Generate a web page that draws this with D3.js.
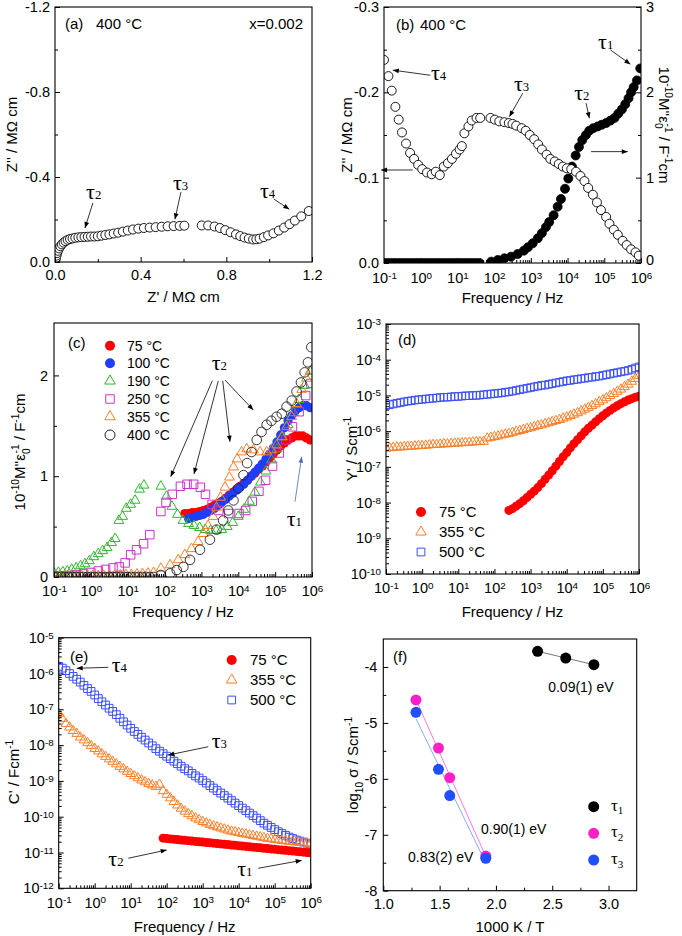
<!DOCTYPE html>
<html><head><meta charset="utf-8">
<script src="https://cdn.jsdelivr.net/npm/d3@7"></script>
<style>body{margin:0;background:#fff}svg{display:block}</style>
</head><body><script>
// ================= DATA =================
const freqTicks=[0.1,1,10,100,1e3,1e4,1e5,1e6];
const aXTicks=[0,0.4,0.8,1.2], aXMinor=[0.2,0.6,1.0];
const aYTicks=[0,-0.4,-0.8,-1.2], aYMinor=[-0.2,-0.6,-1.0];
const bLTicks=[0,-0.1,-0.2,-0.3], bLMinor=[-0.05,-0.15,-0.25];
const bRTicks=[0,1,2,3], bRMinor=[0.5,1.5,2.5];
const cYTicks=[0,1,2], cYMinor=[0.5,1.5];
const dYTicks=[1e-10,1e-9,1e-8,1e-7,1e-6,1e-5,1e-4,1e-3];
const eYTicks=[1e-12,1e-11,1e-10,1e-9,1e-8,1e-7,1e-6,1e-5];
const fXTicks=[1.0,1.5,2.0,2.5,3.0], fXMinor=[1.25,1.75,2.25,2.75];
const fYTicks=[-8,-7,-6,-5,-4], fYMinor=[-7.5,-6.5,-5.5,-4.5];

// (a) Nyquist, 400 C : [Z' (MOhm cm), Z'' (MOhm cm)]
const aNyquist=[[0.002,-0.006],[0.004,-0.018],[0.007,-0.03],[0.01,-0.042],[0.014,-0.053],[0.019,-0.064],[0.025,-0.074],[0.032,-0.083],[0.04,-0.091],[0.049,-0.098],[0.059,-0.104],[0.07,-0.108],[0.082,-0.111],[0.095,-0.114],[0.109,-0.116],[0.123,-0.117],[0.138,-0.118],[0.153,-0.119],[0.168,-0.12],[0.184,-0.12],[0.2,-0.121],[0.217,-0.124],[0.235,-0.127],[0.254,-0.13],[0.274,-0.134],[0.295,-0.138],[0.317,-0.143],[0.34,-0.148],[0.364,-0.153],[0.389,-0.157],[0.415,-0.16],[0.442,-0.162],[0.47,-0.164],[0.498,-0.166],[0.526,-0.168],[0.554,-0.169],[0.582,-0.17],[0.604,-0.171],
[0.685,-0.172],[0.715,-0.172],[0.745,-0.167],[0.77,-0.16],[0.795,-0.15],[0.82,-0.14],[0.845,-0.13],[0.865,-0.122],[0.885,-0.115],[0.905,-0.11],[0.925,-0.106],[0.94,-0.107],[0.955,-0.11],[0.975,-0.117],[0.995,-0.125],[1.02,-0.135],[1.045,-0.148],[1.07,-0.162],[1.095,-0.178],[1.12,-0.195],[1.15,-0.215],[1.185,-0.24]];

// (b) 400 C: [log10 f, Z''] and [log10 f, 1e-10 M''/eps0]
const bZ2=[[-1.0,-0.238],[-0.88,-0.219],[-0.79,-0.202],[-0.69,-0.183],[-0.6,-0.168],[-0.51,-0.153],[-0.4,-0.14],[-0.29,-0.129],[-0.18,-0.122],[-0.07,-0.115],[0.04,-0.11],[0.17,-0.106],[0.3,-0.104],[0.41,-0.107],[0.52,-0.103],[0.63,-0.113],[0.74,-0.117],[0.85,-0.122],[0.96,-0.128],[1.06,-0.133],[1.12,-0.137],[1.19,-0.152],[1.3,-0.16],[1.39,-0.167],[1.52,-0.17],[1.62,-0.17],
[1.9,-0.17],[2.02,-0.168],[2.14,-0.166],[2.28,-0.165],[2.4,-0.164],[2.5,-0.163],[2.6,-0.161],[2.75,-0.158],[2.86,-0.155],[2.97,-0.15],[3.09,-0.145],[3.2,-0.139],[3.3,-0.133],[3.43,-0.127],[3.53,-0.122],[3.65,-0.119],[3.76,-0.116],[3.87,-0.113],[3.98,-0.111],[4.1,-0.11],[4.23,-0.107],[4.35,-0.102],[4.46,-0.096],[4.56,-0.088],[4.69,-0.08],[4.8,-0.071],[4.91,-0.062],[5.05,-0.054],[5.14,-0.046],[5.26,-0.039],[5.37,-0.033],[5.5,-0.026],[5.61,-0.021],[5.73,-0.016],[5.85,-0.0125],[5.94,-0.0086]];
const bM2=[[-1.0,0],[-0.9,0],[-0.8,0],[-0.7,0],[-0.6,0],[-0.5,0],[-0.4,0],[-0.3,0],[-0.2,0],[-0.1,0],[0.0,0],[0.1,0],[0.2,0],[0.3,0],[0.4,0],[0.5,0],[0.6,0],[0.7,0],[0.8,0],[0.9,0],[1.0,0],[1.1,0],[1.2,0],[1.3,0],[1.4,0],[1.5,0],[1.6,0],
[1.92,0.016],[2.1,0.035],[2.28,0.055],[2.46,0.074],[2.64,0.105],[2.81,0.145],[2.92,0.184],[3.05,0.23],[3.19,0.29],[3.3,0.35],[3.41,0.42],[3.5,0.48],[3.62,0.56],[3.73,0.66],[3.82,0.75],[3.93,0.87],[4.02,0.99],[4.12,1.13],[4.22,1.26],[4.31,1.36],[4.4,1.44],[4.5,1.5],[4.59,1.55],[4.7,1.58],[4.82,1.6],[4.93,1.62],[5.05,1.64],[5.17,1.67],[5.28,1.7],[5.38,1.75],[5.48,1.8],[5.57,1.86],[5.66,1.93],[5.73,2.0],[5.8,2.06],[5.89,2.14],[5.98,2.28]];

// (c) 1e-10 M''/eps0 vs [log10 f, value]
const c75=[[2.55,0.63],[2.65,0.63],[2.75,0.64],[2.85,0.64],[2.95,0.65],[3.05,0.66],[3.15,0.67],[3.25,0.69],[3.35,0.71],[3.45,0.73],[3.55,0.75],[3.65,0.78],[3.75,0.81],[3.85,0.84],[3.95,0.87],[4.05,0.9],[4.15,0.93],[4.25,0.96],[4.35,1.0],[4.45,1.03],[4.55,1.07],[4.65,1.1],[4.75,1.14],[4.85,1.18],[4.95,1.22],[5.05,1.26],[5.15,1.3],[5.25,1.33],[5.35,1.36],[5.45,1.38],[5.55,1.4],[5.65,1.4],[5.75,1.4],[5.85,1.38],[5.95,1.36]];
const c100=[[2.65,0.58],[2.75,0.59],[2.85,0.6],[2.95,0.61],[3.05,0.62],[3.15,0.64],[3.25,0.66],[3.35,0.68],[3.45,0.71],[3.55,0.74],[3.65,0.77],[3.75,0.8],[3.85,0.83],[3.95,0.86],[4.05,0.89],[4.15,0.92],[4.25,0.96],[4.35,1.0],[4.45,1.04],[4.55,1.08],[4.65,1.12],[4.75,1.17],[4.85,1.22],[4.95,1.28],[5.05,1.34],[5.15,1.41],[5.25,1.48],[5.35,1.55],[5.45,1.6],[5.55,1.65],[5.65,1.68],[5.75,1.7],[5.85,1.7],[5.95,1.68]];
const c190=[[-1,0.04],[-0.88,0.045],[-0.76,0.05],[-0.64,0.06],[-0.52,0.075],[-0.4,0.09],[-0.28,0.11],[-0.16,0.13],[-0.04,0.16],[0.08,0.2],[0.2,0.23],[0.32,0.26],[0.44,0.29],[0.56,0.34],[0.66,0.38],[0.76,0.56],[0.86,0.6],[0.96,0.68],[1.08,0.72],[1.2,0.76],[1.32,0.87],[1.44,0.91],[1.9,0.9],
[2.05,0.8],[2.2,0.7],[2.35,0.62],[2.5,0.56],[2.65,0.53],[2.8,0.51],[2.95,0.49],[3.1,0.47],[3.25,0.46],[3.4,0.46],[3.55,0.47],[3.7,0.5],[3.85,0.54],[4.0,0.6],[4.15,0.67],[4.3,0.75],[4.45,0.84],[4.6,0.94],[4.75,1.05],[4.9,1.16],[5.05,1.27],[5.2,1.39],[5.35,1.51],[5.5,1.63],[5.65,1.76],[5.8,1.9],[5.95,2.04]];
const c250=[[-1,0.01],[-0.8,0.012],[-0.6,0.015],[-0.4,0.02],[-0.2,0.03],[0,0.045],[0.2,0.06],[0.4,0.075],[0.6,0.09],[0.77,0.1],[0.93,0.14],[1.08,0.22],[1.24,0.27],[1.43,0.33],[1.6,0.42],
[1.9,0.65],[2.04,0.74],[2.21,0.82],[2.43,0.9],[2.61,0.92],[2.79,0.92],[2.97,0.89],[3.11,0.82],[3.29,0.72],[3.47,0.66],[3.74,0.63],[4.02,0.63],[4.2,0.66],[4.38,0.75],[4.56,0.85],[4.74,0.96],[4.93,1.1],[5.11,1.23],[5.29,1.36],[5.47,1.49],[5.65,1.64],[5.83,1.8],[5.97,1.92]];
const c355=[[-1,0.01],[-0.85,0.01],[-0.7,0.01],[-0.55,0.01],[-0.4,0.01],[-0.25,0.01],[-0.1,0.012],[0.05,0.012],[0.2,0.013],[0.35,0.014],[0.5,0.015],[0.65,0.017],[0.8,0.019],[0.95,0.021],[1.1,0.024],[1.25,0.028],[1.4,0.032],[1.55,0.037],[1.7,0.043],
[1.9,0.085],[2.15,0.12],[2.37,0.17],[2.55,0.22],[2.73,0.28],[2.91,0.35],[3.05,0.43],[3.18,0.51],[3.32,0.6],[3.41,0.69],[3.52,0.79],[3.64,0.89],[3.76,0.99],[3.87,1.09],[3.97,1.17],[4.09,1.24],[4.23,1.27],[4.41,1.26],[4.59,1.24],[4.77,1.24],[4.9,1.26],[5.04,1.31],[5.18,1.39],[5.31,1.49],[5.45,1.59],[5.58,1.72],[5.72,1.86],[5.85,1.97],[5.99,2.05]];
const c400=[[-1,0],[-0.9,0],[-0.8,0],[-0.7,0],[-0.6,0],[-0.5,0],[-0.4,0],[-0.3,0],[-0.2,0],[-0.1,0],[0,0],[0.1,0],[0.2,0],[0.3,0],[0.4,0],[0.5,0],[0.6,0],[0.7,0],[0.8,0],[0.9,0],[1.0,0],[1.1,0],[1.2,0],[1.3,0],[1.4,0],[1.5,0],[1.6,0],[1.7,0],
[1.9,0.02],[2.15,0.036],[2.33,0.069],[2.51,0.1],[2.69,0.17],[2.96,0.27],[3.23,0.37],[3.41,0.47],[3.59,0.56],[3.73,0.66],[3.87,0.76],[4.0,0.88],[4.14,1.01],[4.24,1.13],[4.36,1.24],[4.5,1.36],[4.63,1.44],[4.77,1.51],[4.9,1.55],[5.04,1.59],[5.18,1.62],[5.31,1.69],[5.45,1.75],[5.58,1.84],[5.7,1.93],[5.8,2.03],[5.89,2.13],[5.98,2.28]];

// (d) Y' : [log10 f, log10 Y']
const d75=[[2.4,-8.22],[2.5,-8.17],[2.6,-8.1],[2.7,-8.03],[2.8,-7.95],[2.9,-7.86],[3.0,-7.77],[3.1,-7.68],[3.2,-7.58],[3.3,-7.47],[3.4,-7.35],[3.5,-7.23],[3.6,-7.11],[3.7,-6.98],[3.8,-6.85],[3.9,-6.72],[4.0,-6.6],[4.1,-6.47],[4.2,-6.35],[4.3,-6.24],[4.4,-6.13],[4.5,-6.02],[4.6,-5.92],[4.7,-5.83],[4.8,-5.74],[4.9,-5.65],[5.0,-5.57],[5.1,-5.49],[5.2,-5.42],[5.3,-5.35],[5.4,-5.29],[5.5,-5.23],[5.6,-5.18],[5.7,-5.13],[5.8,-5.09],[5.9,-5.05],[6.0,-5.02]];
const d355=[[-1,-6.48],[-0.9,-6.47],[-0.8,-6.46],[-0.7,-6.45],[-0.6,-6.45],[-0.5,-6.44],[-0.4,-6.43],[-0.3,-6.43],[-0.2,-6.42],[-0.1,-6.41],[0,-6.41],[0.1,-6.4],[0.2,-6.39],[0.3,-6.38],[0.4,-6.38],[0.5,-6.37],[0.6,-6.36],[0.7,-6.36],[0.8,-6.35],[0.9,-6.34],[1.0,-6.34],[1.1,-6.33],[1.2,-6.32],[1.3,-6.32],[1.4,-6.31],[1.5,-6.3],[1.6,-6.3],[1.7,-6.29],
[1.8,-6.2],[1.9,-6.18],[2.0,-6.16],[2.1,-6.14],[2.2,-6.11],[2.3,-6.09],[2.4,-6.07],[2.5,-6.04],[2.6,-6.01],[2.7,-5.99],[2.8,-5.96],[2.9,-5.93],[3.0,-5.91],[3.1,-5.88],[3.2,-5.85],[3.3,-5.83],[3.4,-5.8],[3.5,-5.77],[3.6,-5.74],[3.7,-5.71],[3.8,-5.68],[3.9,-5.64],[4.0,-5.61],[4.1,-5.57],[4.2,-5.53],[4.3,-5.49],[4.4,-5.44],[4.5,-5.39],[4.6,-5.34],[4.7,-5.29],[4.8,-5.24],[4.9,-5.18],[5.0,-5.13],[5.1,-5.07],[5.2,-5.01],[5.3,-4.95],[5.4,-4.89],[5.5,-4.83],[5.6,-4.76],[5.7,-4.69],[5.8,-4.61],[5.9,-4.53],[6.0,-4.45]];
const d500=[[-1,-5.28],[-0.9,-5.26],[-0.8,-5.24],[-0.7,-5.22],[-0.6,-5.2],[-0.5,-5.18],[-0.4,-5.16],[-0.3,-5.15],[-0.2,-5.13],[-0.1,-5.12],[0,-5.11],[0.1,-5.1],[0.2,-5.09],[0.3,-5.08],[0.4,-5.07],[0.5,-5.06],[0.6,-5.05],[0.7,-5.05],[0.8,-5.04],[0.9,-5.03],[1.0,-5.03],[1.1,-5.02],[1.2,-5.01],[1.3,-5.01],[1.4,-5.0],[1.5,-5.0],[1.6,-4.99],[1.7,-4.98],[1.8,-4.97],[1.9,-4.96],[2.0,-4.95],[2.1,-4.94],[2.2,-4.93],[2.3,-4.91],[2.4,-4.9],[2.5,-4.88],[2.6,-4.86],[2.7,-4.84],[2.8,-4.82],[2.9,-4.8],[3.0,-4.78],[3.1,-4.76],[3.2,-4.74],[3.3,-4.72],[3.4,-4.71],[3.5,-4.69],[3.6,-4.67],[3.7,-4.65],[3.8,-4.63],[3.9,-4.61],[4.0,-4.59],[4.1,-4.58],[4.2,-4.56],[4.3,-4.55],[4.4,-4.53],[4.5,-4.52],[4.6,-4.5],[4.7,-4.49],[4.8,-4.47],[4.9,-4.46],[5.0,-4.44],[5.1,-4.42],[5.2,-4.4],[5.3,-4.38],[5.4,-4.36],[5.5,-4.34],[5.6,-4.32],[5.7,-4.3],[5.8,-4.27],[5.9,-4.23],[6.0,-4.2]];

// (e) C' : [log10 f, log10 C']
const e75=[[1.9,-10.6],[2.0,-10.61],[2.1,-10.62],[2.2,-10.63],[2.3,-10.64],[2.4,-10.65],[2.5,-10.66],[2.6,-10.67],[2.7,-10.68],[2.8,-10.69],[2.9,-10.7],[3.0,-10.71],[3.1,-10.72],[3.2,-10.73],[3.3,-10.74],[3.4,-10.75],[3.5,-10.76],[3.6,-10.77],[3.7,-10.78],[3.8,-10.79],[3.9,-10.8],[4.0,-10.81],[4.1,-10.82],[4.2,-10.83],[4.3,-10.84],[4.4,-10.85],[4.5,-10.86],[4.6,-10.87],[4.7,-10.88],[4.8,-10.89],[4.9,-10.9],[5.0,-10.91],[5.1,-10.92],[5.2,-10.93],[5.3,-10.94],[5.4,-10.95],[5.5,-10.96],[5.6,-10.97],[5.7,-10.98],[5.8,-10.99],[5.9,-11.0],[6.0,-11.01]];
const e355=[[-1,-7.12],[-0.9,-7.26],[-0.8,-7.4],[-0.7,-7.5],[-0.6,-7.6],[-0.5,-7.68],[-0.4,-7.78],[-0.3,-7.86],[-0.2,-7.94],[-0.1,-8.02],[0,-8.1],[0.1,-8.17],[0.2,-8.25],[0.3,-8.32],[0.4,-8.39],[0.5,-8.46],[0.6,-8.53],[0.7,-8.6],[0.8,-8.67],[0.9,-8.74],[1.0,-8.8],[1.1,-8.86],[1.2,-8.92],[1.3,-8.98],[1.4,-9.03],[1.5,-9.08],[1.6,-9.12],[1.7,-9.16],[1.8,-9.1],[1.9,-9.28],[2.0,-9.38],[2.1,-9.48],[2.2,-9.58],[2.3,-9.68],[2.4,-9.77],[2.5,-9.85],[2.6,-9.92],[2.7,-9.98],[2.8,-10.04],[2.9,-10.09],[3.0,-10.14],[3.1,-10.18],[3.2,-10.22],[3.3,-10.26],[3.4,-10.29],[3.5,-10.32],[3.6,-10.35],[3.7,-10.38],[3.8,-10.41],[3.9,-10.43],[4.0,-10.45],[4.1,-10.47],[4.2,-10.49],[4.3,-10.51],[4.4,-10.53],[4.5,-10.55],[4.6,-10.57],[4.7,-10.59],[4.8,-10.61],[4.9,-10.62],[5.0,-10.64],[5.1,-10.65],[5.2,-10.67],[5.3,-10.68],[5.4,-10.69],[5.5,-10.7],[5.6,-10.71],[5.7,-10.72],[5.8,-10.73],[5.9,-10.74],[6.0,-10.75]];
const e500=[[-1,-5.8],[-0.9,-5.85],[-0.8,-5.92],[-0.7,-6.0],[-0.6,-6.08],[-0.5,-6.16],[-0.4,-6.24],[-0.3,-6.33],[-0.2,-6.42],[-0.1,-6.5],[0,-6.6],[0.1,-6.7],[0.2,-6.79],[0.3,-6.88],[0.4,-6.97],[0.5,-7.06],[0.6,-7.15],[0.7,-7.25],[0.8,-7.35],[0.9,-7.44],[1.0,-7.53],[1.1,-7.62],[1.2,-7.7],[1.3,-7.78],[1.4,-7.86],[1.5,-7.94],[1.6,-8.02],[1.7,-8.1],[1.8,-8.17],[1.9,-8.24],[2.0,-8.31],[2.1,-8.38],[2.2,-8.45],[2.3,-8.52],[2.4,-8.59],[2.5,-8.66],[2.6,-8.72],[2.7,-8.79],[2.8,-8.86],[2.9,-8.92],[3.0,-8.99],[3.1,-9.06],[3.2,-9.13],[3.3,-9.2],[3.4,-9.27],[3.5,-9.34],[3.6,-9.41],[3.7,-9.48],[3.8,-9.55],[3.9,-9.62],[4.0,-9.69],[4.1,-9.76],[4.2,-9.83],[4.3,-9.9],[4.4,-9.97],[4.5,-10.04],[4.6,-10.11],[4.7,-10.18],[4.8,-10.24],[4.9,-10.3],[5.0,-10.36],[5.1,-10.42],[5.2,-10.47],[5.3,-10.52],[5.4,-10.57],[5.5,-10.61],[5.6,-10.65],[5.7,-10.68],[5.8,-10.71],[5.9,-10.74],[6.0,-10.77]];

// (f) Arrhenius: [1000K/T, log10 sigma]
const fTau1=[[2.37,-3.72],[2.62,-3.84],[2.87,-3.96]];
const fTau2=[[1.29,-4.59],[1.49,-5.45],[1.59,-5.98],[1.91,-7.38]];
const fTau3=[[1.29,-4.81],[1.49,-5.83],[1.59,-6.3],[1.91,-7.42]];
const fLabels=["0.09(1) eV","0.90(1) eV","0.83(2) eV"];
const cLegend=["75 °C","100 °C","190 °C","250 °C","355 °C","400 °C"];
const deLegend=["75 °C","355 °C","500 °C"];

// ================= DRAWING =================
const FONT='"Liberation Sans", Arial, Helvetica, sans-serif';
const SERIF='"Liberation Serif", "Times New Roman", serif';
const TFS=14.5, LFS=15;
const RED="#ff0000", BLUE="#1f3dff", GREEN="#2eb82e", MAG="#cc33cc", ORANGE="#ff7f27", SQBLUE="#3b4fff";
const svg=d3.select("body").append("svg").attr("width",682).attr("height",936);
const defs=svg.append("defs");
["#000","#4a6fb0"].forEach((c,i)=>{
  defs.append("marker").attr("id","ah"+i).attr("viewBox","0 0 10 10").attr("refX",10).attr("refY",5)
   .attr("markerWidth",7).attr("markerHeight",6).attr("markerUnits","userSpaceOnUse").attr("orient","auto")
   .append("path").attr("d","M0,1L10,5L0,9Z").attr("fill",c);
});
let clipN=0;
function panel(P){
  const id="cl"+(clipN++);
  defs.append("clipPath").attr("id",id).append("rect").attr("x",P.l).attr("y",P.t).attr("width",P.r-P.l).attr("height",P.b-P.t);
  return svg.append("g").attr("clip-path",`url(#${id})`);
}
function frame(P){
  svg.append("rect").attr("x",P.l).attr("y",P.t).attr("width",P.r-P.l).attr("height",P.b-P.t)
    .attr("fill","none").attr("stroke","#000").attr("stroke-width",1.1);
}
function logMinor(majors){
  const out=[];
  for(let i=0;i<majors.length-1;i++) for(let m=2;m<=9;m++) out.push(majors[i]*m);
  return out;
}
function addAxis(side,P,scale,major,minor,opts){
  opts=opts||{};
  const mk=side==="bottom"?d3.axisBottom:side==="left"?d3.axisLeft:d3.axisRight;
  const tr=side==="bottom"?`translate(0,${P.b})`:side==="left"?`translate(${P.l},0)`:`translate(${P.r},0)`;
  if(minor&&minor.length){
    const gm=svg.append("g").attr("transform",tr).call(mk(scale).tickValues(minor).tickSize(-3).tickFormat(""));
    gm.select(".domain").remove(); gm.selectAll("text").remove();
    gm.selectAll("line").attr("stroke","#000");
  }
  const g=svg.append("g").attr("transform",tr)
    .call(mk(scale).tickValues(major).tickSize(-5).tickPadding(opts.pad||6).tickFormat(opts.fmt||(d=>String(d))));
  g.select(".domain").remove();
  g.selectAll("line").attr("stroke","#000");
  g.selectAll("text").attr("font-size",TFS).attr("font-family",FONT).attr("fill","#000");
  if(opts.pow){
    g.selectAll(".tick text").each(function(d){
      const t=d3.select(this); const e=Math.round(Math.log10(d));
      t.text(null);
      t.append("tspan").text("10");
      t.append("tspan").attr("dy","-0.42em").attr("font-size",TFS*0.68).text(String(e));
    });
  }
  return g;
}
function txt(x,y,s,o){
  o=o||{};
  return svg.append("text").attr("x",x).attr("y",y).attr("font-family",o.ff||FONT).attr("font-size",o.fs||LFS)
    .attr("text-anchor",o.anchor||"start").attr("fill","#000").text(s);
}
function rich(x,y,parts,o){
  o=o||{};
  const fs=o.fs||LFS;
  const t=svg.append("text").attr("font-family",FONT).attr("font-size",fs).attr("text-anchor",o.anchor||"middle").attr("fill","#000");
  if(o.rot!==undefined) t.attr("transform",`translate(${x},${y}) rotate(${o.rot})`);
  else t.attr("x",x).attr("y",y);
  let level=0;
  parts.forEach(p=>{
    const [s,k,dx]=p;
    const target=k==="sup"?-0.42*fs:k==="sub"?0.3*fs:0;
    const ts=t.append("tspan").attr("dy",target-level).text(s);
    if(dx) ts.attr("dx",dx);
    if(k!=="n") ts.attr("font-size",fs*0.68);
    level=target;
  });
  return t;
}
function tau(x,y,num,o){
  o=o||{};
  const fs=o.fs||22;
  const t=svg.append("text").attr("x",x).attr("y",y).attr("font-family",SERIF).attr("font-size",fs).attr("fill","#000");
  t.append("tspan").text("τ");
  const s=t.append("tspan").attr("font-size",fs*(o.sub?0.65:0.58)).text(num);
  if(o.sub) s.attr("dy",fs*0.22);
  return t;
}
function arrow(x1,y1,x2,y2,c){
  svg.append("line").attr("x1",x1).attr("y1",y1).attr("x2",x2).attr("y2",y2)
    .attr("stroke",c||"#000").attr("stroke-width",0.8).attr("marker-end",`url(#${c?"ah1":"ah0"})`);
}
function circles(g,data,fx,fy,r,fill,stroke,sw){
  g.append("g").selectAll("circle").data(data).join("circle")
    .attr("cx",fx).attr("cy",fy).attr("r",r).attr("fill",fill).attr("stroke",stroke||"none").attr("stroke-width",sw||1);
}
function syms(g,data,fx,fy,type,size,stroke,sw){
  const sym=d3.symbol().type(type).size(size);
  g.append("g").selectAll("path").data(data).join("path")
    .attr("transform",d=>`translate(${fx(d)},${fy(d)})`).attr("d",sym)
    .attr("fill","none").attr("stroke",stroke).attr("stroke-width",sw||1);
}
const p10=v=>Math.pow(10,v);

// ---------- (a) ----------
{
  const P={l:55,r:312,t:7,b:262};
  const x=d3.scaleLinear().domain([0,1.2]).range([P.l,P.r]);
  const y=d3.scaleLinear().domain([0,-1.2]).range([P.b,P.t]);
  const g=panel(P);
  circles(g,aNyquist,d=>x(d[0]),d=>y(d[1]),4.5,"#fff","#000",0.9);
  frame(P);
  addAxis("bottom",P,x,aXTicks,aXMinor,{fmt:d=>d.toFixed(1),pad:8});
  addAxis("left",P,y,aYTicks,aYMinor,{fmt:d=>d.toFixed(1),pad:5});
  txt((P.l+P.r)/2,302,"Z' / MΩ cm",{anchor:"middle"});
  rich(17,(P.t+P.b)/2,[["Z'' / MΩ cm","n"]],{rot:-90});
  txt(65,29,"(a)"); txt(96,29,"400 °C"); txt(303,29,"x=0.002",{anchor:"end"});
  tau(x(0.145),y(-0.296),"2"); arrow(x(0.177),y(-0.278),x(0.14),y(-0.16));
  tau(x(0.551),y(-0.339),"3"); arrow(x(0.588),y(-0.329),x(0.56),y(-0.201));
  tau(x(0.957),y(-0.301),"4"); arrow(x(1.022),y(-0.296),x(1.094),y(-0.248));
}
// ---------- (b) ----------
{
  const P={l:384,r:641,t:7,b:263};
  const x=d3.scaleLog().domain([0.1,1e6]).range([P.l,P.r]);
  const yl=d3.scaleLinear().domain([0,-0.3]).range([P.b,P.t]);
  const yr=d3.scaleLinear().domain([0,3]).range([P.b,P.t]);
  const g=panel(P);
  circles(g,bM2,d=>x(p10(d[0])),d=>yr(d[1]),4.5,"#000","#000",0.8);
  circles(g,bZ2,d=>x(p10(d[0])),d=>yl(d[1]),4.5,"#fff","#000",0.9);
  frame(P);
  addAxis("bottom",P,x,freqTicks,logMinor(freqTicks),{pow:true,pad:10});
  addAxis("left",P,yl,bLTicks,bLMinor,{fmt:d=>d.toFixed(1),pad:5});
  const gr=addAxis("right",P,yr,bRTicks,bRMinor,{fmt:d=>String(d),pad:5});
  gr.selectAll(".tick text").filter(d=>d===0).attr("dy","0.1em");
  txt((P.l+P.r)/2,303,"Frequency / Hz",{anchor:"middle"});
  rich(352,(P.t+P.b)/2,[["Z'' / MΩ cm","n"]],{rot:-90});
  rich(659,125,[["10","n"],["-10","sup"],["M''ε","n"],["0","sub"],["-1","sup",-5],[" / F","n"],["-1","sup"],["cm","n"]],{rot:90});
  txt(396,30,"(b)"); txt(420,30,"400 °C");
  const X=v=>x(p10(v));
  tau(X(0.28),yl(-0.2145),"4"); arrow(X(0.26),yl(-0.220),X(-0.76),yl(-0.226));
  tau(X(2.54),yl(-0.2016),"3"); arrow(X(2.78),yl(-0.199),X(2.414),yl(-0.1715));
  tau(X(4.18),yl(-0.191),"2"); arrow(X(4.504),yl(-0.1872),X(4.594),yl(-0.1696));
  tau(X(4.83),yl(-0.251),"1"); arrow(X(5.166),yl(-0.2497),X(5.711),yl(-0.233));
  arrow(X(-0.218),yl(-0.109),X(-1.08),yl(-0.109));
  arrow(X(4.64),yl(-0.1305),X(5.64),yl(-0.1305));
}
// ---------- (c) ----------
{
  const P={l:54,r:312,t:323,b:577};
  const x=d3.scaleLog().domain([0.1,1e6]).range([P.l,P.r]);
  const y=d3.scaleLinear().domain([0,2.52]).range([P.b,P.t]);
  const g=panel(P);
  const fx=d=>x(p10(d[0])), fy=d=>y(d[1]);
  circles(g,c75,fx,fy,4.6,RED);
  circles(g,c100,fx,fy,4.6,BLUE);
  syms(g,c190,fx,fy,d3.symbolTriangle,42,GREEN,1);
  syms(g,c250,fx,fy,d3.symbolSquare,72,MAG,1);
  syms(g,c355,fx,fy,d3.symbolTriangle,42,ORANGE,1);
  circles(g,c400,fx,fy,4.8,"none","#222",0.9);
  frame(P);
  addAxis("bottom",P,x,freqTicks,logMinor(freqTicks),{pow:true,pad:9});
  addAxis("left",P,y,cYTicks,cYMinor,{fmt:d=>String(d),pad:6});
  txt((P.l+P.r)/2,617,"Frequency / Hz",{anchor:"middle"});
  rich(25,452,[["10","n"],["-10","sup"],["M''ε","n"],["0","sub"],["-1","sup",-5],[" / F","n"],["-1","sup"],["cm","n"]],{rot:-90});
  txt(68,348,"(c)");
  const ly=[345.7,363.3,381,399,416.7,435], lx=110;
  const lg=svg.append("g");
  lg.append("circle").attr("cx",lx).attr("cy",ly[0]).attr("r",5).attr("fill",RED);
  lg.append("circle").attr("cx",lx).attr("cy",ly[1]).attr("r",5).attr("fill",BLUE);
  const tri=d3.symbol().type(d3.symbolTriangle).size(48), sq=d3.symbol().type(d3.symbolSquare).size(72);
  lg.append("path").attr("d",tri).attr("transform",`translate(${lx},${ly[2]})`).attr("fill","none").attr("stroke",GREEN);
  lg.append("path").attr("d",sq).attr("transform",`translate(${lx},${ly[3]})`).attr("fill","none").attr("stroke",MAG);
  lg.append("path").attr("d",tri).attr("transform",`translate(${lx},${ly[4]})`).attr("fill","none").attr("stroke",ORANGE);
  lg.append("circle").attr("cx",lx).attr("cy",ly[5]).attr("r",5).attr("fill","none").attr("stroke","#222");
  cLegend.forEach((s,i)=>txt(127,ly[i]+5,s,{fs:14}));
  const X=v=>x(p10(v));
  tau(X(3.28),y(2.05),"2");
  arrow(X(3.295),y(1.947),X(2.166),y(0.995));
  arrow(X(3.458),y(1.947),X(2.798),y(1.022));
  arrow(X(3.577),y(1.947),X(3.775),y(1.342));
  arrow(X(3.64),y(1.954),X(4.407),y(1.657));
  tau(X(5.313),y(0.506),"1");
  arrow(X(5.538),y(0.747),X(5.72),y(1.193),"#4a6fb0");
}
// ---------- (d) ----------
{
  const P={l:386,r:639,t:324,b:574};
  const x=d3.scaleLog().domain([0.1,1e6]).range([P.l,P.r]);
  const y=d3.scaleLog().domain([1e-10,1e-3]).range([P.b,P.t]);
  const g=panel(P);
  const fx=d=>x(p10(d[0])), fy=d=>y(p10(d[1]));
  syms(g,d500,fx,fy,d3.symbolSquare,56,SQBLUE,1);
  syms(g,d355,fx,fy,d3.symbolTriangle,40,ORANGE,1);
  circles(g,d75,fx,fy,4.5,RED);
  frame(P);
  addAxis("bottom",P,x,freqTicks,logMinor(freqTicks),{pow:true,pad:9});
  addAxis("left",P,y,dYTicks,logMinor(dYTicks),{pow:true,pad:5});
  txt((P.l+P.r)/2,617,"Frequency / Hz",{anchor:"middle"});
  rich(357,449,[["Y' / Scm","n"],["-1","sup"]],{rot:-90});
  txt(398,345,"(d)");
  const ly=[512,532,552], lx=421;
  svg.append("circle").attr("cx",lx).attr("cy",ly[0]).attr("r",5).attr("fill",RED);
  svg.append("path").attr("d",d3.symbol().type(d3.symbolTriangle).size(48)).attr("transform",`translate(${lx},${ly[1]})`).attr("fill","none").attr("stroke",ORANGE);
  svg.append("path").attr("d",d3.symbol().type(d3.symbolSquare).size(60)).attr("transform",`translate(${lx},${ly[2]})`).attr("fill","none").attr("stroke",SQBLUE);
  deLegend.forEach((s,i)=>txt(439,ly[i]+5,s));
}
// ---------- (e) ----------
{
  const P={l:58.7,r:310.7,t:637.7,b:888.3};
  const x=d3.scaleLog().domain([0.1,1e6]).range([P.l,P.r]);
  const y=d3.scaleLog().domain([1e-12,1e-5]).range([P.b,P.t]);
  const g=panel(P);
  const fx=d=>x(p10(d[0])), fy=d=>y(p10(d[1]));
  syms(g,e500,fx,fy,d3.symbolSquare,60,SQBLUE,1);
  syms(g,e355,fx,fy,d3.symbolTriangle,40,ORANGE,1);
  circles(g,e75,fx,fy,4.5,RED);
  frame(P);
  addAxis("bottom",P,x,freqTicks,logMinor(freqTicks),{pow:true,pad:9});
  addAxis("left",P,y,eYTicks,logMinor(eYTicks),{pow:true,pad:5});
  txt((P.l+P.r)/2,932,"Frequency / Hz",{anchor:"middle"});
  rich(19,772,[["C' / Fcm","n"],["-1","sup"]],{rot:-90});
  txt(70,662,"(e)");
  const ly=[660,680,700], lx=231.7;
  svg.append("circle").attr("cx",lx).attr("cy",ly[0]).attr("r",5).attr("fill",RED);
  svg.append("path").attr("d",d3.symbol().type(d3.symbolTriangle).size(48)).attr("transform",`translate(${lx},${ly[1]})`).attr("fill","none").attr("stroke",ORANGE);
  svg.append("path").attr("d",d3.symbol().type(d3.symbolSquare).size(60)).attr("transform",`translate(${lx},${ly[2]})`).attr("fill","none").attr("stroke",SQBLUE);
  deLegend.forEach((s,i)=>txt(250,ly[i]+5,s));
  const X=v=>x(p10(v)), Y=v=>y(p10(v));
  tau(X(0.472),Y(-5.958),"4"); arrow(X(0.378),Y(-5.827),X(-0.5),Y(-5.855));
  tau(X(3.25),Y(-8.08),"3"); arrow(X(3.156),Y(-8.045),X(2.044),Y(-8.277));
  tau(X(0.378),Y(-11.377),"2"); arrow(X(0.933),Y(-11.16),X(2.0),Y(-10.93));
  tau(X(3.96),Y(-11.656),"1"); arrow(X(4.544),Y(-11.44),X(5.75),Y(-11.22));
}
// ---------- (f) ----------
{
  const P={l:383.3,r:636.7,t:639,b:890.7};
  const x=d3.scaleLinear().domain([1.0,3.25]).range([P.l,P.r]);
  const y=d3.scaleLinear().domain([-8,-3.5]).range([P.b,P.t]);
  const g=panel(P);
  function fit(data,color){
    const mx=d3.mean(data,d=>d[0]), my=d3.mean(data,d=>d[1]);
    const sl=d3.sum(data,d=>(d[0]-mx)*(d[1]-my))/d3.sum(data,d=>(d[0]-mx)*(d[0]-mx));
    const [x0,x1]=d3.extent(data,d=>d[0]);
    g.append("line").attr("x1",x(x0)).attr("y1",y(my+sl*(x0-mx))).attr("x2",x(x1)).attr("y2",y(my+sl*(x1-mx)))
      .attr("stroke",color).attr("stroke-width",1);
  }
  fit(fTau1,"#777"); fit(fTau2,"#ff7ad9"); fit(fTau3,"#8ea8ff");
  circles(g,fTau1,d=>x(d[0]),d=>y(d[1]),5.5,"#000");
  circles(g,fTau2,d=>x(d[0]),d=>y(d[1]),5.5,"#ff1fc8");
  circles(g,fTau3,d=>x(d[0]),d=>y(d[1]),5.5,"#1f4fff");
  frame(P);
  addAxis("bottom",P,x,fXTicks,fXMinor,{fmt:d=>d.toFixed(1),pad:8});
  addAxis("left",P,y,fYTicks,fYMinor,{fmt:d=>String(d),pad:6});
  txt((P.l+P.r)/2,932,"1000 K / T",{anchor:"middle"});
  rich(358,765,[["log","n"],["10","sub"],[" σ / Scm","n"],["-1","sup"]],{rot:-90});
  txt(393,662,"(f)");
  txt(x(2.464),y(-4.452),fLabels[0],{fs:14});
  txt(x(1.868),y(-6.988),fLabels[1],{fs:14});
  txt(x(1.22),y(-7.488),fLabels[2],{fs:14});
  const ly=[806.7,833.3,860], lx=593.7, cols=["#000","#ff1fc8","#1f4fff"];
  ly.forEach((v,i)=>{
    svg.append("circle").attr("cx",lx).attr("cy",v).attr("r",5.5).attr("fill",cols[i]);
    tau(611,v+4,String(i+1),{sub:true,fs:17});
  });
}
</script></body></html>
